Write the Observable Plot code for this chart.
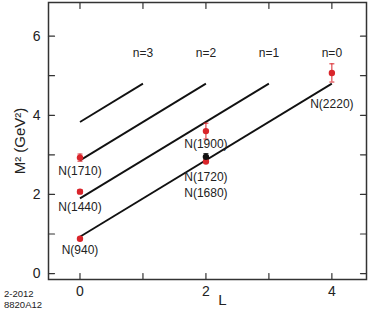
<!DOCTYPE html>
<html><head><meta charset="utf-8">
<script src="https://cdn.jsdelivr.net/npm/d3@7"></script>
<script src="https://cdn.jsdelivr.net/npm/@observablehq/plot@0.6"></script>
<style>
body{margin:0;background:#fff;font-family:"Liberation Sans",Arial,sans-serif;}
#wrap{position:relative;width:371px;height:317px;}
#stamp{position:absolute;left:4px;top:289px;font-size:9.5px;line-height:10.5px;color:#222;}
</style></head><body>
<div id="wrap"><div id="stamp">2-2012<br>8820A12</div></div>
<script>
// Resonances
const names = ["N(940)", "N(1440)", "N(1710)", "N(1900)", "N(1680)", "N(1720)", "N(2220)"];
const Lval  = [0, 0, 0, 2, 2, 2, 4];
const M2    = [0.88, 2.07, 2.93, 3.60, 2.83, 2.95, 5.07];
const M2err = [0.0, 0.05, 0.09, 0.20, 0.02, 0.08, 0.23];
const pointColor = ["#d9252b", "#d9252b", "#d9252b", "#d9252b", "#d9252b", "#111111", "#d9252b"];
// label placement (data units)
const labelL  = [0, 0, 0, 2, 2, 2, 4];
const labelM2 = [0.59, 1.67, 2.58, 3.28, 2.04, 2.44, 4.29];
// Regge trajectories
const nVals   = ["n=0", "n=1", "n=2", "n=3"];
const trajL1  = [0, 0, 0, 0];
const trajM1  = [0.93, 1.90, 2.86, 3.83];
const trajL2  = [4, 3, 2, 1];
const trajM2  = [4.80, 4.80, 4.80, 4.80];
const nLabelM2 = [5.56, 5.56, 5.56, 5.56];
// ticks
const xTicksAll = [0, 1, 2, 3, 4];
const xTicksLab = [0, 2, 4];
const yTicksAll = [0, 1, 2, 3, 4, 5, 6];
const yTicksLab = [0, 2, 4, 6];

const points = names.map((n, i) => ({name: n, L: Lval[i], m2: M2[i], lo: M2[i] - M2err[i], hi: M2[i] + M2err[i], color: pointColor[i], lx: labelL[i], ly: labelM2[i], err: M2err[i]}));
const bars = points.filter(d => d.err > 0);
const caps = bars.flatMap(d => [{L: d.L, y: d.lo, color: d.color}, {L: d.L, y: d.hi, color: d.color}]);
const traj = nVals.map((n, i) => ({n, x1: trajL1[i], y1: trajM1[i], x2: trajL2[i], y2: trajM2[i], ly: nLabelM2[i]}));

const capSymbol = {draw(ctx) { ctx.moveTo(-2.5, 0); ctx.lineTo(2.5, 0); }};
const tickShape = {draw(ctx, l) { ctx.moveTo(0, 0); ctx.lineTo(0, -l); }};
const font = "Liberation Sans, Arial, Helvetica, sans-serif";
const tk = {length: 6, anchor: "start", shape: tickShape, stroke: "#333", strokeWidth: 1.2};

const plot = Plot.plot({
  width: 371, height: 317,
  marginLeft: 48, marginRight: 5, marginTop: 2, marginBottom: 38,
  x: {domain: [-0.5, 4.55]},
  y: {domain: [-0.15, 6.85]},
  color: {type: "identity"},
  style: {fontFamily: font, fontSize: "14px", color: "#222", background: "transparent"},
  marks: [
    Plot.axisX({ticks: xTicksLab, tickSize: 0, tickPadding: 7, anchor: "bottom", label: null, tickFormat: "d", fontSize: 14}),
    Plot.axisY({ticks: yTicksLab, tickSize: 0, tickPadding: 8, anchor: "left", label: null, tickFormat: "d", fontSize: 14}),
    Plot.vector(xTicksAll, {x: d => d, frameAnchor: "bottom", rotate: 0, ...tk}),
    Plot.vector(xTicksAll, {x: d => d, frameAnchor: "top", rotate: 180, ...tk}),
    Plot.vector(yTicksAll, {y: d => d, frameAnchor: "left", rotate: 90, ...tk}),
    Plot.vector(yTicksAll, {y: d => d, frameAnchor: "right", rotate: -90, ...tk}),
    Plot.frame({stroke: "#333", strokeWidth: 1.5}),
    Plot.text(["L"], {frameAnchor: "bottom", textAnchor: "middle", dx: 15, dy: 25, fontSize: 15}),
    Plot.text(["M² (GeV²)"], {frameAnchor: "left", textAnchor: "middle", rotate: -90, dx: -28, fontSize: 15}),
    Plot.link(traj, {x1: "x1", y1: "y1", x2: "x2", y2: "y2", stroke: "#111", strokeWidth: 1.8}),
    Plot.text(traj, {x: "x2", y: "ly", text: "n", fontSize: 12, fill: "#222"}),
    Plot.ruleX(bars, {x: "L", y1: "lo", y2: "hi", stroke: "color", strokeWidth: 1}),
    Plot.dot(caps, {x: "L", y: "y", symbol: capSymbol, stroke: "color", strokeWidth: 1, fill: "none"}),
    Plot.dot(points, {x: "L", y: "m2", r: 3.2, fill: "color", stroke: "none"}),
    Plot.text(points, {x: "lx", y: "ly", text: "name", fontSize: 12, fill: "#222"})
  ]
});
document.getElementById("wrap").prepend(plot);
</script>
</body></html>
